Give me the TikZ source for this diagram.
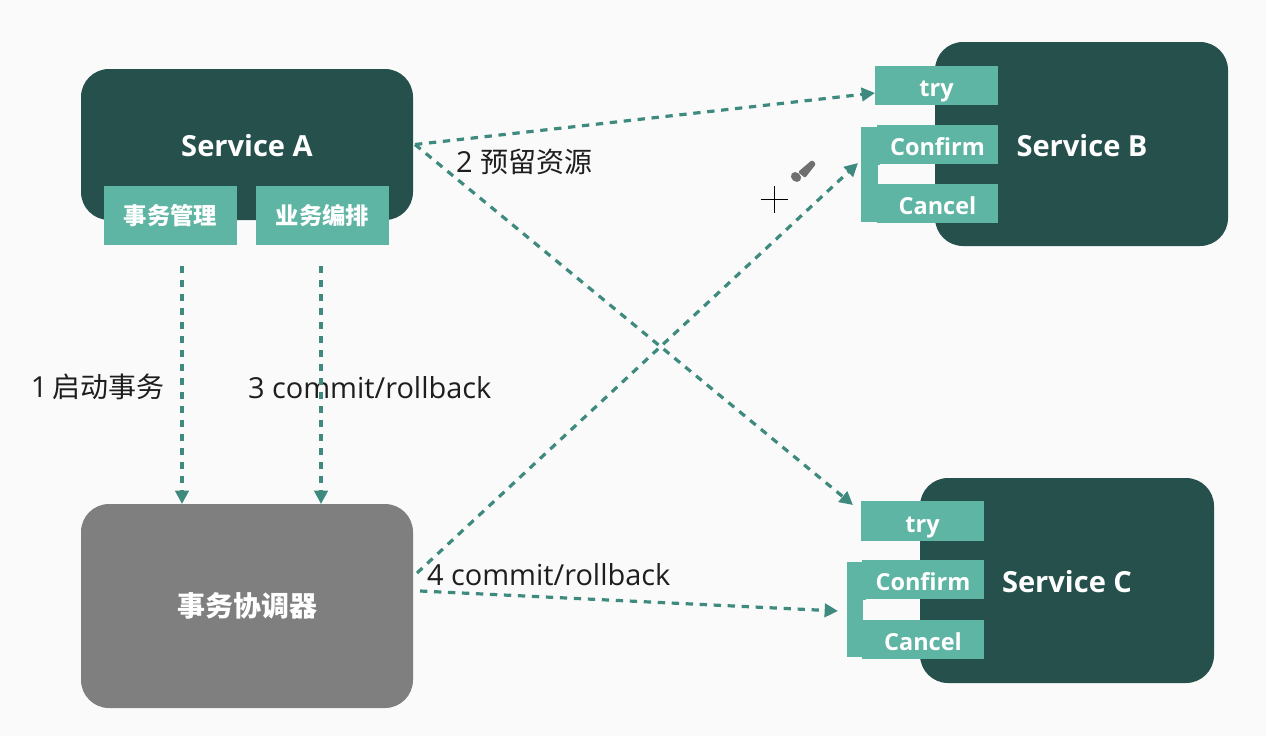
\documentclass[tikz,border=0pt]{standalone}
\usepackage{fontspec}
\setmainfont{Open Sans}
\newfontfamily\cjk{Noto Sans CJK SC}
\usetikzlibrary{arrows.meta,calc}
\definecolor{bgc}{HTML}{FAFAFA}
\definecolor{darkc}{HTML}{25504C}
\definecolor{tealc}{HTML}{5FB5A4}
\definecolor{grayc}{HTML}{7F7F7F}
\definecolor{linec}{HTML}{3F8A7E}
\definecolor{inkc}{HTML}{1E1E1E}
\definecolor{brushc}{HTML}{707070}
\tikzset{
  x=0.75pt,y=-0.75pt,
  every node/.style={inner sep=0pt,outer sep=0pt},
  bigbox/.style={rounded corners=21pt,draw=none,text=white},
  svc/.style={text=white,font=\fontsize{21.8}{26}\selectfont\bfseries},
  tag/.style={fill=tealc,text=white,text height=17pt,text depth=0pt,font=\fontsize{17.6}{20}\selectfont\bfseries},
  cjktag/.style={fill=tealc,text=white,font=\cjk\fontsize{17.5}{20}\selectfont\bfseries},
  lab/.style={text=inkc,anchor=west,font=\fontsize{21.7}{26}\selectfont},
  flow/.style={draw=linec,line width=2.4pt,dash pattern=on 5.5pt off 5pt,-{Triangle[length=10pt,width=10pt]}},
}
\newcommand{\bx}[6][]{\node[#1,minimum width=#4*0.75pt,minimum height=#5*0.75pt,anchor=north west] (#2) at (#3) {#6};}
\newcommand{\lc}[1]{{\cjk\fontsize{21}{26}\selectfont #1}}
\begin{document}
\begin{tikzpicture}
\fill[bgc] (0,0) rectangle (1266,736);
\useasboundingbox (0,0) rectangle (1266,736);
% Service A
\bx[bigbox,fill=darkc]{sa}{81,69}{332}{151}{}
\node[svc] (satext) at (247,146) {Service A};
\bx[cjktag]{tm}{104,186}{133}{59}{事务管理}
\bx[cjktag]{bo}{256,186}{133}{59}{业务编排}
% Coordinator
\bx[bigbox,fill=grayc,font=\cjk\fontsize{21}{26}\selectfont\bfseries]{tc}{81,504}{332}{204}{事务协调器}
% Service B
\bx[bigbox,fill=darkc]{sb}{935,42}{293}{204}{}
\node[svc] (sbtext) at (1082,146) {Service B};
\fill[tealc] (861,127) rectangle (880,222);
\fill[bgc] (878,165) rectangle (935,184);
\bx[tag]{btry}{875,66}{123}{39}{try}
\bx[tag]{bcon}{877,125}{121}{39}{Confirm}
\bx[tag]{bcan}{877,184}{121}{39}{Cancel}
% Service C
\bx[bigbox,fill=darkc]{sc}{920,478}{294}{205}{}
\node[svc] (sctext) at (1067,582) {Service C};
\fill[tealc] (847,562) rectangle (866,657);
\fill[bgc] (863,600) rectangle (920,620);
\bx[tag]{ctry}{861,501}{123}{40}{try}
\bx[tag]{ccon}{862,560}{122}{39}{Confirm}
\bx[tag]{ccan}{862,620}{122}{39}{Cancel}
% Labels
\node[lab] (l2) at (456,162) {2 \lc{预留资源}};
\node[lab] (l1) at (31,387) {1\hspace{3.5pt}\lc{启动事务}};
\node[lab] (l3) at (248,388) {3 commit/rollback};
\node[lab] (l4) at (427,575) {4 commit/rollback};
% Connectors
\coordinate (tmout) at (182,266);
\coordinate (boout) at (321,266);
\draw[flow] (tmout) -- (tmout |- tc.north);
\draw[flow] (boout) -- (boout |- tc.north);
\draw[flow] ([xshift=1.5pt]sa.east) -- ([yshift=-5.6pt]btry.west);
\draw[flow] ([xshift=1.5pt]sa.east) -- ([xshift=-6pt,yshift=-3pt]ctry.north west);
\draw[flow] ([xshift=3pt,yshift=24.75pt]tc.east) -- ([xshift=-14.25pt,yshift=0.75pt]bcon.south west);
\draw[flow] ([xshift=5.25pt,yshift=11.25pt]tc.east) -- ([xshift=-18pt,yshift=-9pt]ccon.south west);
% Cursor and brush
\draw[black,line width=0.9pt] (761,199.5) -- (788,199.5) (774.5,186) -- (774.5,213);
\fill[brushc,rounded corners=1pt] (812,160) -- (816,164) -- (805,178) -- (798,172) -- cycle;
\fill[brushc,rotate around={-40:(796,177)}] (796,177) ellipse[x radius=5.5,y radius=4.5];
\end{tikzpicture}
\end{document}
